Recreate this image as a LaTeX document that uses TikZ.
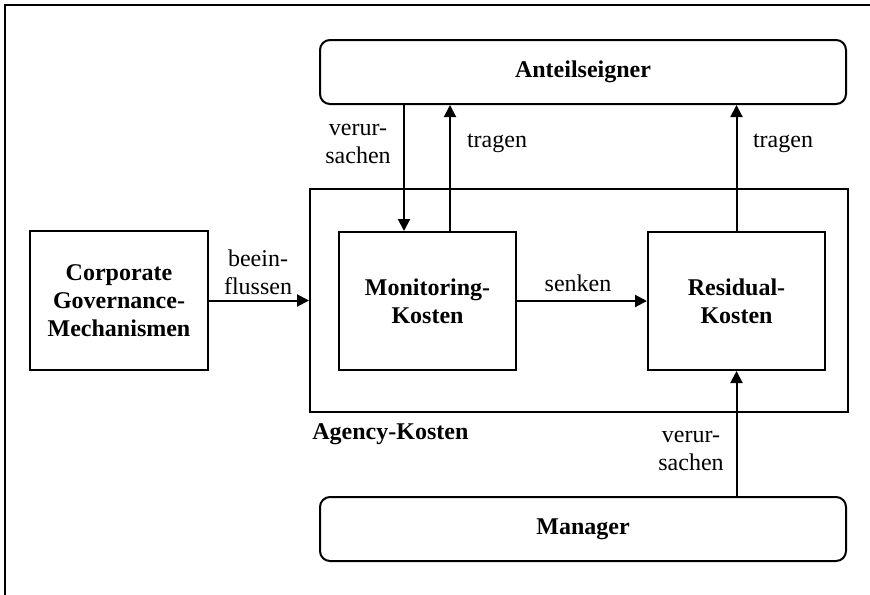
\documentclass[tikz,border=0pt]{standalone}
\usepackage{fontspec}
\setmainfont{Liberation Serif}
\usetikzlibrary{arrows.meta}
\begin{document}
\begin{tikzpicture}[x=0.5pt,y=-0.5pt,
  font=\fontsize{12}{14}\selectfont,
  box/.style={draw,line width=1pt,inner sep=0pt,align=center,font=\fontsize{12}{14}\selectfont\bfseries},
  rbox/.style={box,rounded corners=5pt},
  arr/.style={line width=1pt,-{Triangle[length=6pt,width=6pt]}},
  lbl/.style={align=center,inner sep=0pt}]
\useasboundingbox (0,0) rectangle (870,594);
\draw[line width=0.7pt] (5,600) -- (5,5) -- (880,5);
\node[rbox,minimum width=263pt,minimum height=32pt] (A) at (583,72) {Anteilseigner};
\node[rbox,minimum width=263pt,minimum height=32pt] (Man) at (583,529) {Manager};
\node[box,minimum width=269pt,minimum height=111.5pt] (K) at (579,300.5) {};
\node[box,minimum width=89pt,minimum height=69.5pt] (C) at (119,300.5) {Corporate\\Governance-\\Mechanismen};
\node[box,minimum width=88.5pt,minimum height=69pt] (M) at (427.5,301) {Monitoring-\\Kosten};
\node[box,minimum width=88.5pt,minimum height=69pt] (R) at (736.5,301) {Residual-\\Kosten};
\node[lbl,anchor=west,font=\fontsize{12}{14}\selectfont\bfseries] (KL) at (312,434) {Agency-Kosten};
\coordinate (xv) at (404,0);
\coordinate (xt) at (450,0);
\draw[arr] (A.south -| xv) -- (M.north -| xv);
\draw[arr] (M.north -| xt) -- (A.south -| xt);
\draw[arr] (R.north) -- (A.south -| R.north);
\draw[arr] (Man.north -| R.south) -- (R.south);
\draw[arr] (C.east) -- (C.east -| K.west);
\draw[arr] (M.east) -- (R.west);
\node[lbl] (l1) at (358,144) {verur-\\sachen};
\node[lbl] (l2) at (497,143) {tragen};
\node[lbl] (l3) at (783,143) {tragen};
\node[lbl] (l4) at (258,272) {beein-\\flussen};
\node[lbl] (l5) at (578,283) {senken};
\node[lbl] (l6) at (691,451) {verur-\\sachen};
\end{tikzpicture}
\end{document}
